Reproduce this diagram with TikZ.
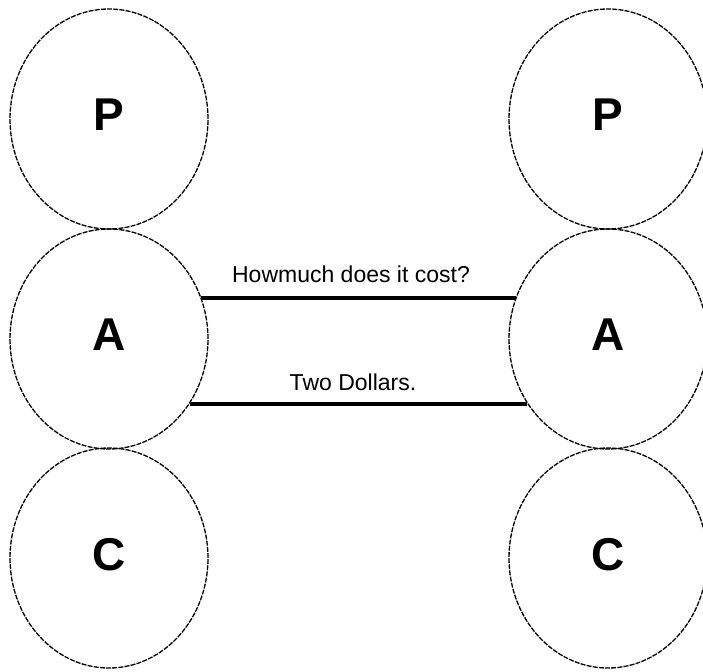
\documentclass[tikz,border=0pt]{standalone}
\usepackage{fontspec}
\setmainfont{Liberation Sans}
\usetikzlibrary{shapes.geometric}
\begin{document}
\begin{tikzpicture}[x=1pt,y=-1pt,
  role/.style={ellipse, draw=black, line width=1.3pt,
    dash pattern=on 5pt off 1.2pt,
    minimum width=198pt, minimum height=220pt, inner sep=0pt,
    font=\fontsize{46}{46}\selectfont\bfseries, text depth=8pt},
  talk/.style={line width=3.8pt, draw=black},
  msg/.style={font=\fontsize{23}{23}\selectfont, anchor=base, inner sep=0pt}]
\useasboundingbox (0,0) rectangle (703,671);
% left party: P, A, C
\node[role] (Pl) at (109,119) {P};
\node[role] (Al) at (109,339) {A};
\node[role] (Cl) at (109,558) {C};
% right party: P, A, C
\node[role] (Pr) at (608,119) {P};
\node[role] (Ar) at (608,339) {A};
\node[role] (Cr) at (608,558) {C};
% adult-to-adult transactions
\draw[talk] (Al.24) -- (Ar.156);
\draw[talk] (Al.-39) -- (Ar.219);
\node[msg] (q) at (351,282) {Howmuch does it cost?};
\node[msg] (r) at (353,390) {Two Dollars.};
\end{tikzpicture}
\end{document}
